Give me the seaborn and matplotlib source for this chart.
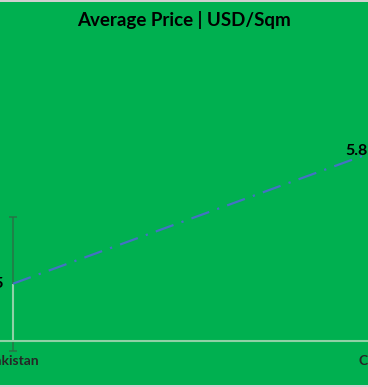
import matplotlib
matplotlib.use("Agg")
import matplotlib.pyplot as plt
import seaborn as sns
import pandas as pd

# data
countries = ['Pakistan', 'China']
avg_price = [1.75, 5.8]
price_err = [2.05, 2.05]

df = pd.DataFrame({'Country': countries, 'Price': avg_price})

sns.set_style('white')
plt.rcParams['font.family'] = ['Lato', 'DejaVu Sans']

green = '#00B050'
fig = plt.figure(figsize=(3.68, 3.87), dpi=100, facecolor='#d0d0d0')

# green chart background (light border at top / bottom)
bg = fig.add_axes([0, 0.006, 1, 0.99])
bg.set_facecolor(green)
bg.set_xticks([])
bg.set_yticks([])
for s in bg.spines.values():
    s.set_visible(False)

# plot area runs a bit past the right edge (chart is cropped there)
ax = fig.add_axes([0, 46 / 387, 380 / 368, 281 / 387])
ax.patch.set_alpha(0)
x = list(range(len(countries)))

# error bars + drop lines
ax.errorbar(x, avg_price, yerr=price_err, fmt='none', ecolor='#2e6b45',
            elinewidth=1.2, capsize=3, capthick=1.2, alpha=0.8,
            linestyle=(0, (6, 2, 1, 2)), clip_on=False, zorder=2)
ax.vlines(x, 0, avg_price, color='#8fd1a6', lw=1.5, zorder=3)

sns.lineplot(data=df, x=x, y='Price', ax=ax, color='#4472C4', lw=1.6,
             sort=False, zorder=4)
ax.lines[-1].set_linestyle((0, (8.5, 3.8, 1, 3.8)))

for xi, v in zip(x, avg_price):
    ax.annotate(f'{v:g}', (xi, v), xytext=(-6, 0), textcoords='offset points',
                ha='right', va='center', fontsize=11.5, fontweight='bold',
                color='black', annotation_clip=False)

ax.set_xticks(x)
ax.set_xticklabels(countries, fontsize=10, fontweight='bold')
# set limits after ticks, otherwise set_xticks widens the view
ax.set_xlim(-13 / 363, -13 / 363 + 380 / 363)
ax.set_ylim(0, 281 / (190 / 5.8))
ax.tick_params(axis='x', length=0, pad=10)
ax.set_yticks([])
ax.set_xlabel('')
ax.set_ylabel('')
for s in ['left', 'right', 'top']:
    ax.spines[s].set_visible(False)
ax.spines['bottom'].set_color('#8fd1a6')
ax.spines['bottom'].set_linewidth(1.5)

fig.text(0.5, 1 - 20 / 387, 'Average Price | USD/Sqm', ha='center', va='center',
         fontsize=13.5, fontweight='bold', color='black')

fig.savefig('out.png', dpi=100, facecolor=fig.get_facecolor())
